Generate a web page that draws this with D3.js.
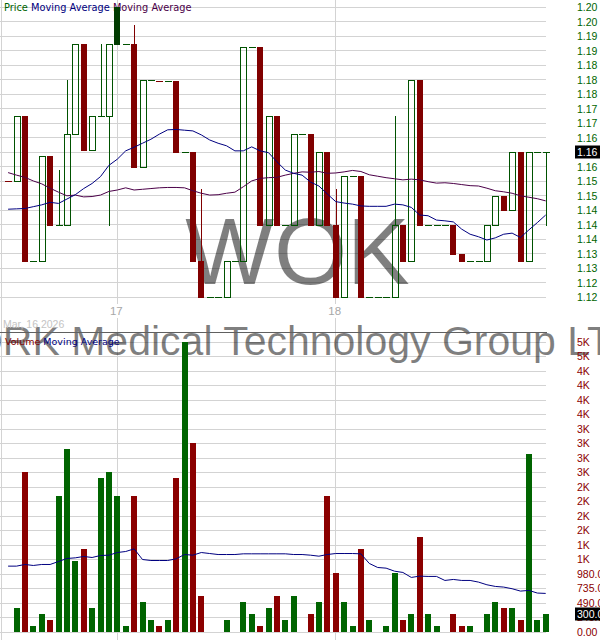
<!DOCTYPE html>
<html><head><meta charset="utf-8">
<script src="https://cdn.jsdelivr.net/npm/d3@7"></script>
<style>html,body{margin:0;padding:0;background:#fff}svg{display:block}</style>
</head><body>
<svg id="chart" width="600" height="640"></svg>
<script>
// ---------------- DATA ----------------
const symbol = "WOK";
const companyName = "WORK Medical Technology Group LTD";
const startDateLabel = "Mar, 16 2026";
const dayStartIndex = [13, 39];
const dayNames = ["17", "18"];
const priorClose = 1.153;

const opens  = [1.152,1.152,1.170,1.130,1.130,1.159,1.140,1.140,1.165,1.190,1.1605,1.170,1.170,1.200,1.190,1.190,
                1.156,1.180,1.1798,1.1798,1.1798,1.160,1.160,1.130,1.120,1.120,1.120,1.130,1.130,1.189,1.189,1.140,
                1.170,1.140,1.140,1.165,1.165,1.140,1.160,1.140,1.120,1.1535,1.1535,1.120,1.120,1.120,1.120,1.140,
                1.130,1.180,1.140,1.140,1.140,1.140,1.132,1.130,1.130,1.130,1.140,1.148,1.144,1.160,1.130,1.160,1.160];
const highs  = [1.152,1.170,1.170,1.130,1.159,1.159,1.155,1.180,1.190,1.190,1.170,1.190,1.190,1.200,1.190,1.195,
                1.180,1.180,1.1798,1.1798,1.1798,1.160,1.160,1.150,1.120,1.120,1.130,1.130,1.189,1.189,1.189,1.170,
                1.170,1.140,1.165,1.165,1.165,1.160,1.160,1.150,1.1535,1.1535,1.1535,1.120,1.120,1.120,1.170,1.140,
                1.180,1.180,1.140,1.140,1.140,1.140,1.132,1.130,1.130,1.140,1.148,1.148,1.160,1.160,1.160,1.160,1.160];
const lows   = [1.152,1.152,1.130,1.130,1.130,1.140,1.140,1.140,1.165,1.1605,1.1605,1.170,1.140,1.190,1.190,1.156,
                1.156,1.180,1.1798,1.1798,1.160,1.160,1.130,1.120,1.120,1.120,1.120,1.130,1.130,1.189,1.140,1.140,
                1.140,1.140,1.140,1.165,1.140,1.140,1.140,1.120,1.120,1.1535,1.120,1.120,1.120,1.120,1.120,1.130,
                1.130,1.140,1.140,1.140,1.140,1.132,1.130,1.130,1.130,1.130,1.140,1.144,1.144,1.130,1.130,1.160,1.140];
const closes = [1.152,1.170,1.130,1.130,1.159,1.140,1.140,1.165,1.190,1.1605,1.170,1.170,1.190,1.190,1.190,1.156,
                1.180,1.180,1.1798,1.1798,1.160,1.160,1.130,1.120,1.120,1.120,1.130,1.130,1.189,1.189,1.140,1.170,
                1.140,1.140,1.165,1.165,1.140,1.160,1.140,1.120,1.1535,1.1535,1.120,1.120,1.120,1.120,1.140,1.130,
                1.180,1.140,1.140,1.140,1.140,1.132,1.130,1.130,1.130,1.140,1.148,1.144,1.160,1.130,1.160,1.160,1.160];
const volumes = [0,400,2700,100,300,200,2300,3100,1200,1400,400,2600,2700,2300,100,2300,
                 500,200,100,200,2600,4900,3200,600,0,0,200,0,500,300,100,400,
                 600,200,600,0,300,500,2300,1000,500,100,1400,200,0,100,1000,200,
                 300,1600,300,100,0,300,100,100,0,300,500,400,400,200,3000,200,300];
const maShort = [1.1443,1.1444,1.1445,1.1450,1.1455,1.1462,1.1459,1.1471,1.1483,1.1500,1.1514,1.1533,1.1564,1.1581,1.1604,1.1614,
                 1.1625,1.1636,1.1650,1.1662,1.1663,1.1661,1.1659,1.1648,1.1634,1.1625,1.1618,1.1604,1.1604,1.1615,1.1604,1.1599,
                 1.1574,1.1551,1.1542,1.1537,1.1518,1.1507,1.1485,1.1464,1.1460,1.1457,1.1452,1.1451,1.1451,1.1451,1.1457,1.1455,
                 1.1448,1.1427,1.1425,1.1413,1.1411,1.1408,1.1388,1.1374,1.1367,1.1358,1.1364,1.1374,1.1377,1.1365,1.1386,1.1406,1.1427];
const maLong  = [1.1544,1.1537,1.1531,1.1521,1.1513,1.1501,1.1490,1.1480,1.1482,1.1477,1.1478,1.1482,1.1492,1.1496,1.1502,1.1496,
                 1.1498,1.1500,1.1502,1.1503,1.1503,1.1502,1.1494,1.1487,1.1482,1.1483,1.1487,1.1490,1.1505,1.1521,1.1528,1.1530,
                 1.1531,1.1537,1.1542,1.1546,1.1545,1.1547,1.1542,1.1543,1.1546,1.1550,1.1547,1.1538,1.1534,1.1530,1.1527,1.1524,
                 1.1526,1.1524,1.1519,1.1515,1.1516,1.1514,1.1511,1.1508,1.1507,1.1501,1.1494,1.1491,1.1487,1.1480,1.1476,1.1472,1.1466];
const volMA   = [1113,1113,1141,1124,1141,1141,1191,1242,1253,1276,1259,1293,1298,1343,1360,1405,
                 1225,1208,1208,1208,1236,1309,1298,1343,1326,1309,1309,1309,1321,1321,1321,1321,
                 1321,1321,1309,1309,1298,1281,1309,1326,1326,1326,1321,1158,1090,1079,1028,1006,
                 922,944,939,939,871,888,871,871,843,798,770,759,731,691,703,658,652];
const priceTicks = [1.120,1.124,1.128,1.132,1.136,1.140,1.144,1.148,1.152,1.156,1.160,1.164,1.168,1.172,1.176,1.180,1.184,1.188,1.192,1.196,1.200];
const priceTickLabels = ["1.12","1.12","1.13","1.13","1.14","1.14","1.14","1.15","1.15","1.16","1.16","1.16","1.17","1.17","1.18","1.18","1.18","1.19","1.19","1.20","1.20"];
const volTicks = [0,245,490,735,980,1225,1470,1715,1960,2205,2450,2695,2940,3185,3430,3675,3920,4165,4410,4655,4900];
const volTickLabels = ["0.00","245.0","490.0","735.0","980.0","1K","1K","2K","2K","2K","2K","3K","3K","3K","3K","4K","4K","4K","4K","5K","5K"];

// ---------------- STYLE / LAYOUT ----------------
const C = {
  grid: "#d3d3d3", hollow: "#005200", filledUp: "#003c00", red: "#800000",
  volUp: "#006400", volDown: "#8b0000", navy: "#000080", purple: "#4b0048",
  axisPrice: "#006400", axisVol: "#8b0000", dateText: "#a8a8a8", startText: "#c4c4c4"
};
const plotRight = 546, axisX = 577;
const svg = d3.select("#chart");
const n = closes.length;
const idx = d3.range(n);
const x = d3.scalePoint().domain(idx).range([8.1, 545.7]);
const y = d3.scaleLinear().domain([priceTicks[0], priceTicks[priceTicks.length-1]]).range([297.3, 7.3]);
const vy = d3.scaleLinear().domain([volTicks[0], volTicks[volTicks.length-1]]).range([632, 342]);
const prevClose = i => i === 0 ? priorClose : closes[i-1];
const crisp = v => Math.round(v) + 0.5;

// gridlines
const g0 = svg.append("g");
g0.selectAll("line.pg").data(priceTicks).join("line")
  .attr("x1", 0).attr("x2", plotRight).attr("y1", d => crisp(y(d) - 0.5)).attr("y2", d => crisp(y(d) - 0.5))
  .attr("stroke", C.grid);
g0.selectAll("line.vg").data(volTicks).join("line")
  .attr("x1", 0).attr("x2", plotRight).attr("y1", d => crisp(vy(d) - 0.5)).attr("y2", d => crisp(vy(d) - 0.5))
  .attr("stroke", C.grid);
g0.append("line").attr("x1", 1.5).attr("x2", 1.5).attr("y1", 0).attr("y2", 640).attr("stroke", C.grid);
dayStartIndex.forEach(i => {
  const xx = crisp(x(i) - 0.5);
  g0.append("line").attr("x1", xx).attr("x2", xx).attr("y1", 0).attr("y2", 304).attr("stroke", C.grid);
  g0.append("line").attr("x1", xx).attr("x2", xx).attr("y1", 318).attr("y2", 640).attr("stroke", C.grid);
});

// watermarks
svg.append("text").attr("x", 297.5).attr("y", 283.5).attr("text-anchor", "middle")
  .attr("font-family", "Liberation Sans, Arial, sans-serif").attr("font-size", 94)
  .attr("fill", "#000").attr("fill-opacity", 0.5).text(symbol);
svg.append("text").attr("x", 287).attr("y", 355).attr("text-anchor", "middle")
  .attr("font-family", "Liberation Sans, Arial, sans-serif").attr("font-size", 41)
  .attr("fill", "#000").attr("fill-opacity", 0.5).text(companyName);

// legends
const leg = svg.append("text").attr("x", 4).attr("y", 10.5)
  .attr("font-family", "DejaVu Sans, Verdana, sans-serif").attr("font-size", 9.8);
leg.append("tspan").attr("fill", C.axisPrice).text("Price ");
leg.append("tspan").attr("fill", C.navy).text("Moving Average ");
leg.append("tspan").attr("fill", C.purple).text("Moving Average");
const vleg = svg.append("text").attr("x", 5).attr("y", 344.5)
  .attr("font-family", "DejaVu Sans, Verdana, sans-serif").attr("font-size", 9.5);
vleg.append("tspan").attr("fill", C.red).text("Volume ");
vleg.append("tspan").attr("fill", C.navy).text("Moving Average");

// date labels
svg.selectAll("text.day").data(dayStartIndex).join("text")
  .attr("x", d => x(d) - 1).attr("y", 315).attr("text-anchor", "middle")
  .attr("font-family", "Liberation Sans, Arial, sans-serif").attr("font-size", 11.5)
  .attr("fill", C.dateText).text((d, i) => dayNames[i]);
svg.append("text").attr("x", 3).attr("y", 328)
  .attr("font-family", "Liberation Sans, Arial, sans-serif").attr("font-size", 10.5)
  .attr("fill", C.startText).text(startDateLabel);
svg.append("line").attr("x1", 0).attr("x2", 547).attr("y1", 332.5).attr("y2", 332.5).attr("stroke", "#606060");

// ---------------- CANDLES ----------------
const cg = svg.append("g");
idx.forEach(i => {
  const o = opens[i], c = closes[i], h = highs[i], l = lows[i];
  const up = c >= prevClose(i);
  const L = Math.round(x(i) - 3);
  const wx = L + 3.5;
  const yTop = Math.round(y(Math.max(o, c))), yBot = Math.round(y(Math.min(o, c)));
  let col;
  if (c > o) {
    col = up ? C.hollow : C.red;
    cg.append("rect").attr("x", L + 0.5).attr("y", yTop + 0.5).attr("width", 6).attr("height", Math.max(1, yBot - yTop))
      .attr("fill", "none").attr("stroke", col);
  } else if (c < o) {
    col = up ? C.filledUp : C.red;
    cg.append("rect").attr("x", L).attr("y", yTop).attr("width", 6).attr("height", Math.max(1, yBot - yTop + 1))
      .attr("fill", col);
  } else {
    col = up ? C.hollow : C.red;
    cg.append("line").attr("x1", L).attr("x2", L + 7).attr("y1", yTop + 0.5).attr("y2", yTop + 0.5).attr("stroke", col);
  }
  if (h > Math.max(o, c)) {
    cg.append("line").attr("x1", wx).attr("x2", wx).attr("y1", Math.round(y(h))).attr("y2", yTop).attr("stroke", col);
  }
  if (l < Math.min(o, c)) {
    cg.append("line").attr("x1", wx).attr("x2", wx).attr("y1", yBot + 1).attr("y2", Math.round(y(l)) + 1).attr("stroke", col);
  }
});

const line = d3.line().x((d, i) => x(i)).y(d => y(d));
svg.append("path").attr("d", line(maLong)).attr("fill", "none").attr("stroke", C.purple).attr("stroke-width", 1);
svg.append("path").attr("d", line(maShort)).attr("fill", "none").attr("stroke", C.navy).attr("stroke-width", 1);

// ---------------- VOLUME ----------------
svg.append("g").selectAll("rect").data(volumes).join("rect")
  .attr("x", (d, i) => Math.round(x(i) - 3)).attr("width", 6)
  .attr("y", d => Math.round(vy(d))).attr("height", d => 632 - Math.round(vy(d)))
  .attr("fill", (d, i) => closes[i] >= prevClose(i) ? C.volUp : C.volDown);
const vline = d3.line().x((d, i) => x(i)).y(d => vy(d));
svg.append("path").attr("d", vline(volMA)).attr("fill", "none").attr("stroke", C.navy).attr("stroke-width", 1);

// ---------------- AXES ----------------
const pAxis = d3.axisRight(y).tickValues(priceTicks).tickFormat((d, i) => priceTickLabels[i]).tickSize(0).tickPadding(0);
const pa = svg.append("g").attr("transform", `translate(${axisX},0)`).call(pAxis);
pa.select(".domain").remove();
pa.selectAll("text").attr("fill", C.axisPrice).attr("font-family", "Liberation Sans, Arial, sans-serif").attr("font-size", 10.5);

const vAxis = d3.axisRight(vy).tickValues(volTicks).tickFormat((d, i) => volTickLabels[i]).tickSize(0).tickPadding(0);
const va = svg.append("g").attr("transform", `translate(${axisX},0)`).call(vAxis);
va.select(".domain").remove();
va.selectAll("text").attr("fill", C.axisVol).attr("font-family", "Liberation Sans, Arial, sans-serif").attr("font-size", 10.5);

const lastClose = closes[n-1], lastVol = volumes[n-1];
function valueBox(cy, label) {
  svg.append("rect").attr("x", 575).attr("y", Math.round(cy) - 6.5).attr("width", 26).attr("height", 13).attr("fill", "#000");
  svg.append("text").attr("x", axisX).attr("y", cy).attr("dy", "0.32em")
    .attr("font-family", "Liberation Sans, Arial, sans-serif").attr("font-size", 10.5)
    .attr("fill", "#fff").text(label);
}
valueBox(y(lastClose), lastClose.toFixed(2));
valueBox(vy(lastVol), lastVol.toFixed(1));
</script>
</body></html>
